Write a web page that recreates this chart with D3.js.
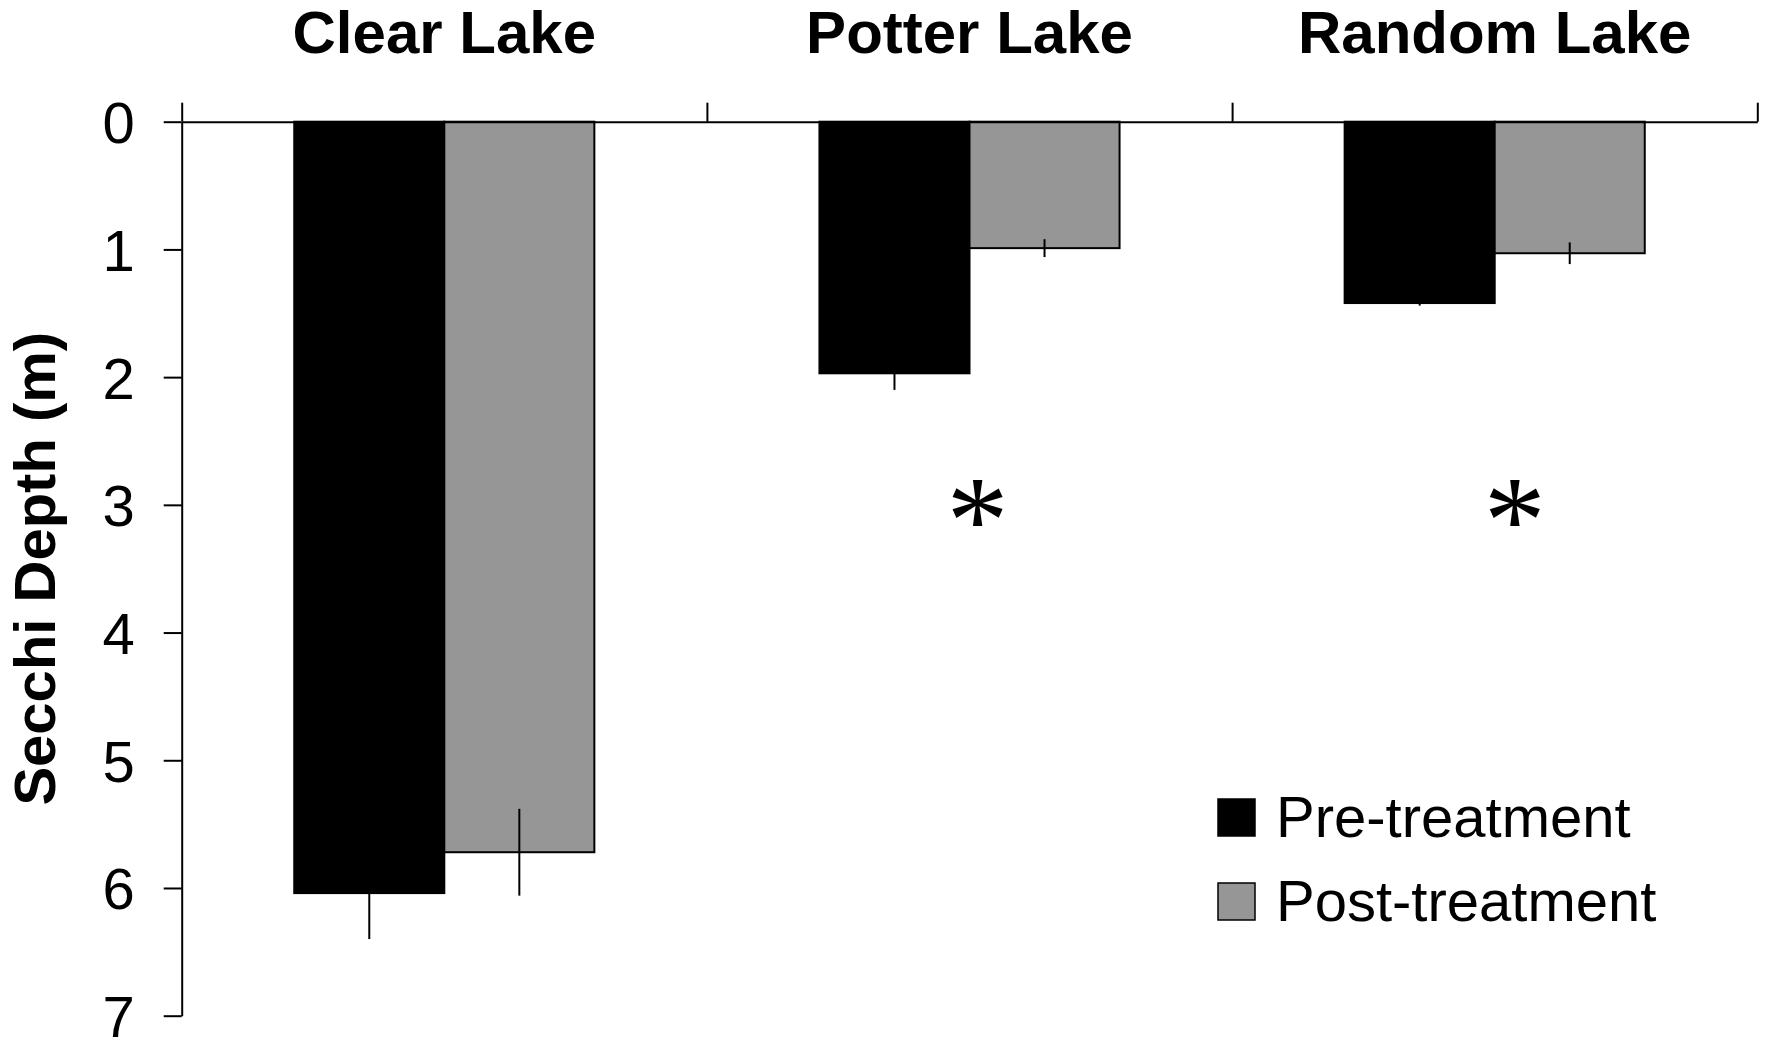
<!DOCTYPE html>
<html>
<head>
<meta charset="utf-8">
<script src="https://cdn.jsdelivr.net/npm/d3@7"></script>
<style>
  html, body { margin: 0; padding: 0; background: #fff; }
  svg { display: block; font-family: "Liberation Sans", Arial, sans-serif; }
</style>
</head>
<body>
<svg id="chart" width="1766" height="1041"></svg>
<script>
// Secchi depth by lake, before and after treatment (metres below surface)
const lakes = ["Clear Lake", "Potter Lake", "Random Lake"];
const seriesNames = ["Pre-treatment", "Post-treatment"];
const preDepth = [6.04, 1.97, 1.42];
const postDepth = [5.72, 0.99, 1.03];
const preError = [0.36, 0.13, 0.02];
const postError = [0.34, 0.07, 0.085];
const significant = [false, true, true];
const depthTicks = [0, 1, 2, 3, 4, 5, 6, 7];
const sigDepth = 3;

const seriesColor = { "Pre-treatment": "#000000", "Post-treatment": "#969696" };

const rows = [];
lakes.forEach((lake, i) => {
  rows.push({ lake, series: seriesNames[0], value: preDepth[i], err: preError[i] });
  rows.push({ lake, series: seriesNames[1], value: postDepth[i], err: postError[i] });
});

const svg = d3.select("#chart");
const plot = { left: 181.7, right: 1757.3, top: 121.7, bottom: 1015.7 };

const y = d3.scaleLinear().domain([0, 7]).range([plot.top, plot.bottom]);
const x0 = d3.scaleBand().domain(lakes).range([plot.left, plot.right]).paddingInner(0).paddingOuter(0);
const x1 = d3.scaleBand().domain(seriesNames).range([0, x0.bandwidth()]).paddingInner(0).paddingOuter(0.75);

// Bars hang down from the surface line
svg.append("g").selectAll("rect")
  .data(rows)
  .join("rect")
  .attr("x", d => x0(d.lake) + x1(d.series))
  .attr("y", y(0))
  .attr("width", x1.bandwidth())
  .attr("height", d => y(d.value) - y(0))
  .attr("fill", d => seriesColor[d.series])
  .attr("stroke", "#000")
  .attr("stroke-width", 2);

// Error bars (no caps)
svg.append("g").selectAll("line")
  .data(rows)
  .join("line")
  .attr("x1", d => x0(d.lake) + x1(d.series) + x1.bandwidth() / 2)
  .attr("x2", d => x0(d.lake) + x1(d.series) + x1.bandwidth() / 2)
  .attr("y1", d => y(d.value - d.err))
  .attr("y2", d => y(d.value + d.err))
  .attr("stroke", "#000")
  .attr("stroke-width", 2);

// Category axis along the top: a line with ticks at the lake boundaries
const edge = d3.scaleLinear().domain([0, lakes.length]).range([plot.left, plot.right]);
const xAxis = svg.append("g")
  .attr("transform", `translate(0,${y(0)})`)
  .call(d3.axisTop(edge).tickValues(d3.range(lakes.length + 1)).tickFormat("").tickSize(19).tickSizeOuter(0));
xAxis.selectAll("path, line").attr("stroke", "#000").attr("stroke-width", 2);

// Lake names above the axis
svg.append("g").selectAll("text")
  .data(lakes)
  .join("text")
  .attr("x", d => x0(d) + x0.bandwidth() / 2)
  .attr("y", 53)
  .attr("text-anchor", "middle")
  .attr("font-weight", "bold")
  .attr("font-size", 60)
  .attr("fill", "#000")
  .text(d => d);

// Depth axis
const yAxis = svg.append("g")
  .attr("transform", `translate(${plot.left},0)`)
  .call(d3.axisLeft(y).tickValues(depthTicks).tickFormat(d3.format("d")).tickSize(18).tickSizeOuter(0).tickPadding(29));
yAxis.selectAll("path, line").attr("stroke", "#000").attr("stroke-width", 2);
yAxis.selectAll("text")
  .attr("font-size", 58)
  .attr("font-family", "Liberation Sans, Arial, sans-serif")
  .attr("fill", "#000")
  .attr("dy", "0.36em");

// Axis title
svg.append("text")
  .attr("transform", `translate(55,${(y(0) + y(7)) / 2}) rotate(-90)`)
  .attr("text-anchor", "middle")
  .attr("font-weight", "bold")
  .attr("font-size", 58)
  .attr("fill", "#000")
  .text("Secchi Depth (m)");

// Significance marks
const sigNudge = [0, 8, 20];
const stars = svg.append("g").selectAll("text")
  .data(lakes.filter((d, i) => significant[i]))
  .join("text")
  .attr("x", d => x0(d) + x0.bandwidth() / 2 + sigNudge[lakes.indexOf(d)])
  .attr("y", y(sigDepth))
  .attr("text-anchor", "middle")
  .attr("font-family", "Liberation Serif, Times New Roman, serif")
  .attr("font-size", 124)
  .attr("fill", "#000")
  .text("*");
// centre each glyph just below its depth line
stars.each(function () {
  const b = this.getBBox();
  const cy = b.y + b.height / 2;
  d3.select(this).attr("y", +d3.select(this).attr("y") + (y(sigDepth) + 16 - cy));
});

// Legend
const legend = svg.append("g").attr("transform", "translate(1218,799)");
const item = legend.selectAll("g")
  .data(seriesNames)
  .join("g")
  .attr("transform", (d, i) => `translate(0,${i * 84})`);
item.append("rect")
  .attr("width", 37)
  .attr("height", 37)
  .attr("fill", d => seriesColor[d])
  .attr("stroke", "#000")
  .attr("stroke-width", 1.5);
item.append("text")
  .attr("x", 58)
  .attr("y", 38)
  .attr("font-size", 58)
  .attr("fill", "#000")
  .text(d => d);
</script>
</body>
</html>
